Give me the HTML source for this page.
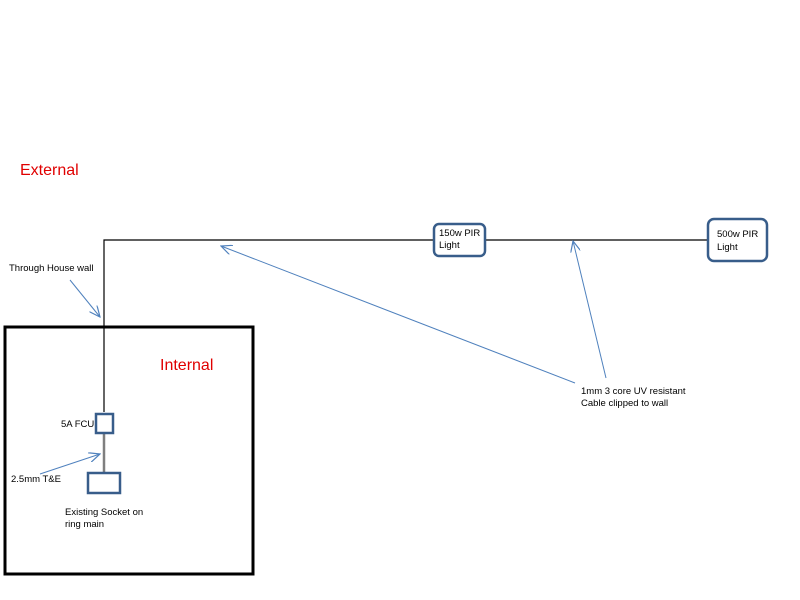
<html><body style="margin:0;background:#fff">
<svg width="800" height="600" xmlns="http://www.w3.org/2000/svg" style="font-family:'Liberation Sans',sans-serif">
<defs><marker id="a" markerWidth="12" markerHeight="10" refX="11" refY="5" orient="auto" markerUnits="userSpaceOnUse"><path d="M0,0 L11,5 L0,10" fill="none" stroke="#4f81bd" stroke-width="1.2"/></marker></defs>
<rect x="5" y="327" width="248" height="247" fill="none" stroke="#000" stroke-width="3"/>
<path d="M104,412 V240 H708" fill="none" stroke="#000" stroke-width="1.2"/>
<line x1="104" y1="433" x2="104" y2="473" stroke="#7f7f7f" stroke-width="2.5"/>
<rect x="96" y="414" width="17" height="19" fill="#fff" stroke="#385d8a" stroke-width="2.5"/>
<rect x="88" y="473" width="32" height="20" fill="#fff" stroke="#385d8a" stroke-width="2.5"/>
<rect x="434" y="224" width="51" height="32" rx="5" fill="#fff" stroke="#385d8a" stroke-width="2.5"/>
<rect x="708" y="219" width="59" height="42" rx="6" fill="#fff" stroke="#385d8a" stroke-width="2.5"/>
<g stroke="#4f81bd" stroke-width="1" marker-end="url(#a)">
<line x1="70" y1="280" x2="100" y2="317"/>
<line x1="40" y1="474" x2="100" y2="454"/>
<line x1="575" y1="383" x2="221" y2="246"/>
<line x1="606" y1="378" x2="573" y2="241"/>
</g>
<g font-size="16" fill="#e00000"><text x="20" y="175">External</text><text x="160" y="370">Internal</text></g>
<g font-size="9.5" fill="#000">
<text x="9" y="271">Through House wall</text>
<text x="61" y="427">5A FCU</text>
<text x="11" y="482">2.5mm T&amp;E</text>
<text x="65" y="515">Existing Socket on</text><text x="65" y="527">ring main</text>
<text x="439" y="236">150w PIR</text><text x="439" y="248">Light</text>
<text x="717" y="237">500w PIR</text><text x="717" y="250">Light</text>
<text x="581" y="394">1mm 3 core UV resistant</text><text x="581" y="406">Cable clipped to wall</text>
</g>
</svg>
</body></html>
